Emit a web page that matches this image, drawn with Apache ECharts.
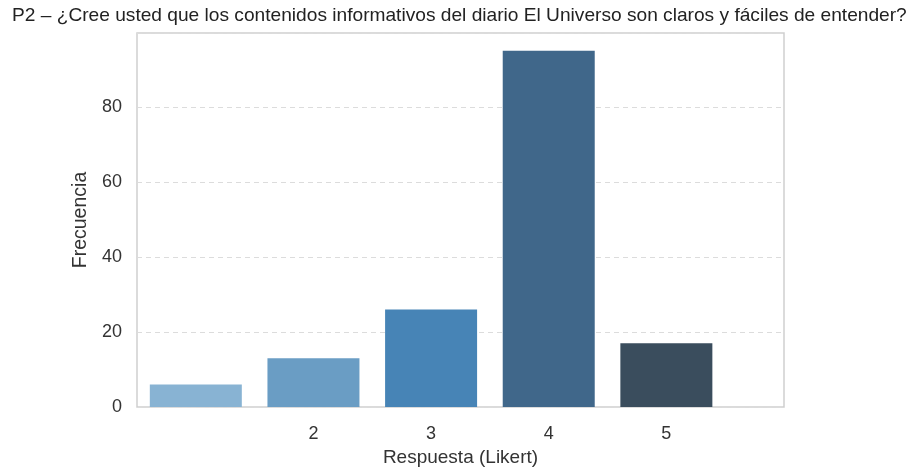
<!DOCTYPE html>
<html>
<head>
<meta charset="utf-8">
<script src="https://cdn.jsdelivr.net/npm/echarts@6/dist/echarts.min.js"></script>
<style>
html,body{margin:0;padding:0;background:#fff;}
#chart{width:914px;height:468px;}
</style>
</head>
<body>
<div id="chart"></div>
<script>
const titleText = 'P2 – ¿Cree usted que los contenidos informativos del diario El Universo son claros y fáciles de entender?';
const categories = ['1', '2', '3', '4', '5'];
const frequencies = [6, 13, 26, 95, 17];
const tickLabels = ['', '2', '3', '4', '5'];
const barColors = ['#88b3d3', '#6a9dc4', '#4784b6', '#40678a', '#3a4d5d'];
const yTicks = [0, 20, 40, 60, 80];

const chart = echarts.init(document.getElementById('chart'), null, {renderer: 'canvas'});
const font = 'Liberation Sans, Arial, sans-serif';

const barData = frequencies.map((v, i) => ({
  value: [i, v],
  itemStyle: {color: barColors[i]}
}));
const labelPositions = tickLabels.map((t, i) => i).filter(i => tickLabels[i] !== '');

chart.setOption({
  animation: false,
  title: {
    text: titleText,
    left: 7,
    top: 1,
    textStyle: {fontFamily: font, fontSize: 19.15, fontWeight: 'normal', color: '#222'}
  },
  grid: {
    left: 137, right: 130, top: 33, bottom: 61,
    outerBoundsMode: 'none',
    containLabel: false,
    show: true, borderColor: '#cfcfcf', borderWidth: 1.5, backgroundColor: '#fff'
  },
  xAxis: {
    type: 'value',
    min: -0.5,
    max: 5,
    name: 'Respuesta (Likert)',
    nameLocation: 'middle',
    nameGap: 41,
    nameTextStyle: {fontFamily: font, fontSize: 19, color: '#333'},
    axisLine: {show: false},
    axisTick: {show: false},
    splitLine: {show: false},
    axisLabel: {
      customValues: labelPositions,
      formatter: v => tickLabels[Math.round(v)] || '',
      fontFamily: font, fontSize: 18, color: '#333', margin: 18
    }
  },
  yAxis: {
    type: 'value',
    min: 0,
    max: 99.75,
    interval: 20,
    name: 'Frecuencia',
    nameLocation: 'middle',
    nameGap: 46,
    nameRotate: 90,
    nameTextStyle: {fontFamily: font, fontSize: 19.5, color: '#333'},
    axisLine: {show: false},
    axisTick: {show: false},
    axisLabel: {
      showMaxLabel: false,
      formatter: v => (yTicks.indexOf(v) >= 0 ? String(v) : ''),
      fontFamily: font, fontSize: 18, color: '#333', margin: 15,
      padding: [5, 0, 0, 0]
    },
    splitLine: {
      show: true,
      lineStyle: {type: [5, 4], color: '#dcdcdc', width: 1}
    }
  },
  series: [{
    type: 'bar',
    name: 'Frecuencia',
    data: barData,
    barWidth: 92
  }]
});
</script>
</body>
</html>
